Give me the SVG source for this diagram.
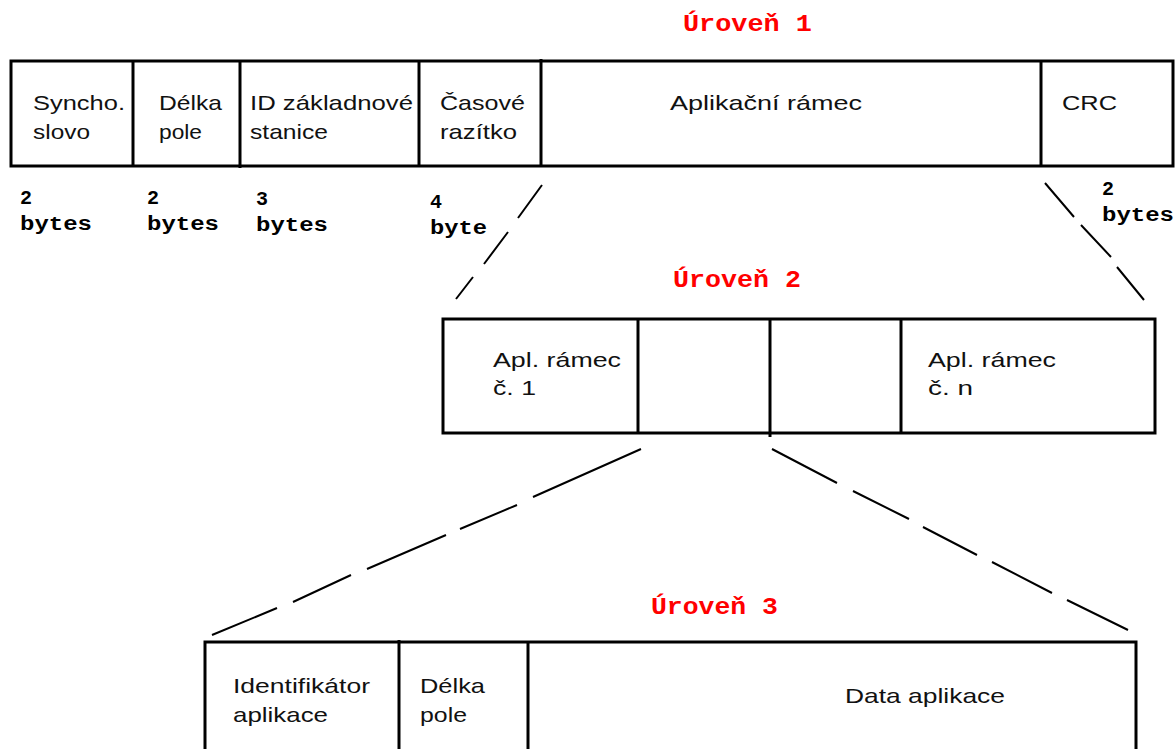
<svg xmlns="http://www.w3.org/2000/svg" width="1176" height="749" viewBox="0 0 1176 749">
<style>
.box{fill:#fff;stroke:#000;stroke-width:3}
.div{stroke:#000;stroke-width:3}
.t{font-family:"Liberation Sans",Arial,sans-serif;font-size:21px;fill:#111}
.b{font-family:"Liberation Mono","Courier New",monospace;font-weight:bold;font-size:20px;fill:#000}
.lv{font-family:"Liberation Mono","Courier New",monospace;font-weight:bold;font-size:23px;fill:#ff0000}
.dash{fill:none;stroke:#000;stroke-width:2}
</style>
<rect width="1176" height="749" fill="#fff"/>
<g id="level1">
<rect class="box" x="11" y="61" width="1162" height="105"/>
<line class="div" x1="133" y1="61" x2="133" y2="166"/>
<line class="div" x1="240" y1="61" x2="240" y2="168"/>
<line class="div" x1="419" y1="61" x2="419" y2="166"/>
<line class="div" x1="541" y1="59" x2="541" y2="166"/>
<line class="div" x1="1041" y1="61" x2="1041" y2="166"/>
</g>
<g id="sync">
<text class="t" x="33" y="110" textLength="92" lengthAdjust="spacingAndGlyphs">Syncho.</text>
<text class="t" x="33" y="139" textLength="57" lengthAdjust="spacingAndGlyphs">slovo</text>
<text class="b" x="20" y="204">2</text>
<text class="b" x="20" y="230" textLength="72" lengthAdjust="spacingAndGlyphs">bytes</text>
</g>
<g id="delka1">
<text class="t" x="159" y="110" textLength="63" lengthAdjust="spacingAndGlyphs">Délka</text>
<text class="t" x="159" y="139" textLength="43" lengthAdjust="spacingAndGlyphs">pole</text>
<text class="b" x="147" y="204">2</text>
<text class="b" x="147" y="230" textLength="72" lengthAdjust="spacingAndGlyphs">bytes</text>
</g>
<g id="idstanice">
<text class="t" x="250" y="110" textLength="163" lengthAdjust="spacingAndGlyphs">ID základnové</text>
<text class="t" x="250" y="139" textLength="78" lengthAdjust="spacingAndGlyphs">stanice</text>
<text class="b" x="256" y="205">3</text>
<text class="b" x="256" y="231" textLength="72" lengthAdjust="spacingAndGlyphs">bytes</text>
</g>
<g id="casove">
<text class="t" x="440" y="110" textLength="85" lengthAdjust="spacingAndGlyphs">Časové</text>
<text class="t" x="440" y="139" textLength="77" lengthAdjust="spacingAndGlyphs">razítko</text>
<text class="b" x="430" y="208">4</text>
<text class="b" x="430" y="234" textLength="57" lengthAdjust="spacingAndGlyphs">byte</text>
</g>
<g id="aplikacni">
<text class="t" x="670" y="110" textLength="192" lengthAdjust="spacingAndGlyphs">Aplikační rámec</text>
</g>
<g id="crc">
<text class="t" x="1062" y="110" textLength="55" lengthAdjust="spacingAndGlyphs">CRC</text>
<text class="b" x="1102" y="195">2</text>
<text class="b" x="1102" y="221" textLength="72" lengthAdjust="spacingAndGlyphs">bytes</text>
</g>
<g id="uroven1"><text class="lv" x="683" y="31" textLength="129" lengthAdjust="spacingAndGlyphs">Úroveň 1</text></g>
<g id="uroven2"><text class="lv" x="673" y="287" textLength="128" lengthAdjust="spacingAndGlyphs">Úroveň 2</text></g>
<g id="uroven3"><text class="lv" x="651" y="614" textLength="127" lengthAdjust="spacingAndGlyphs">Úroveň 3</text></g>
<g id="level2">
<rect class="box" x="443" y="319" width="712" height="114"/>
<line class="div" x1="638" y1="319" x2="638" y2="433"/>
<line class="div" x1="770" y1="319" x2="770" y2="437"/>
<line class="div" x1="901" y1="319" x2="901" y2="433"/>
<text class="t" x="493" y="367" textLength="128" lengthAdjust="spacingAndGlyphs">Apl. rámec</text>
<text class="t" x="493" y="395" textLength="43" lengthAdjust="spacingAndGlyphs">č. 1</text>
<text class="t" x="928" y="367" textLength="128" lengthAdjust="spacingAndGlyphs">Apl. rámec</text>
<text class="t" x="928" y="395" textLength="45" lengthAdjust="spacingAndGlyphs">č. n</text>
</g>
<g id="level3">
<rect class="box" x="205" y="642" width="931" height="120"/>
<line class="div" x1="399" y1="640" x2="399" y2="749"/>
<line class="div" x1="528" y1="642" x2="528" y2="749"/>
<text class="t" x="233" y="693" textLength="137" lengthAdjust="spacingAndGlyphs">Identifikátor</text>
<text class="t" x="233" y="722" textLength="95" lengthAdjust="spacingAndGlyphs">aplikace</text>
<text class="t" x="420" y="693" textLength="65" lengthAdjust="spacingAndGlyphs">Délka</text>
<text class="t" x="420" y="722" textLength="47" lengthAdjust="spacingAndGlyphs">pole</text>
<text class="t" x="845" y="703" textLength="160" lengthAdjust="spacingAndGlyphs">Data aplikace</text>
</g>
<g id="connectors">
<path class="dash" d="M542,185 L518,218 M508,232 L484,264 M473,277 L456,299"/>
<path class="dash" d="M1045,183 L1074,217 M1081,225 L1111,257 M1117,267 L1144,300"/>
<path class="dash" d="M641,449 L533,497 M517,505 L460,529 M446,535 L367,569 M351,575 L293,602 M277,608 L212,635"/>
<path class="dash" d="M772,449 L837,483 M853,491 L909,519 M923,527 L977,555 M992,562 L1052,593 M1067,600 L1128,630"/>
</g>
</svg>
